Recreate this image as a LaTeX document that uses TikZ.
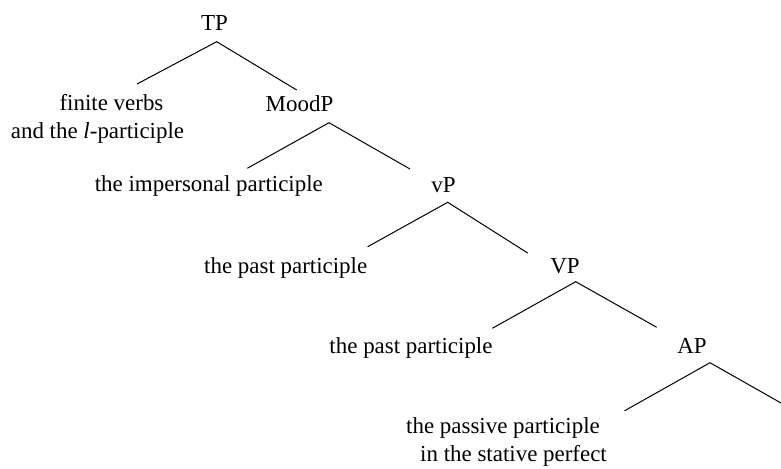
\documentclass[tikz,border=0pt]{standalone}
\usepackage{fontspec}
\setmainfont{Liberation Serif}
\begin{document}
\begin{tikzpicture}[x=0.75pt,y=-0.75pt,
  lbl/.style={anchor=base,inner sep=0pt,align=center,
    font=\fontsize{17.2pt}{20.8pt}\selectfont},
  branch/.style={line width=0.75pt,black}]
\clip (0,0) rectangle (781,468);

% category labels and leaves (two-line leaves sit on their last baseline)
\node[lbl] (TP)    at (214.5,30)  {TP};
\node[lbl] (fin)   at (97.5,138)  {\hspace*{21pt}finite verbs\\and the \textit{l}-participle};
\node[lbl] (MoodP) at (299.5,111) {MoodP};
\node[lbl] (imp)   at (208.8,191.7) {the impersonal participle};
\node[lbl] (vP)    at (443.5,192) {vP};
\node[lbl] (past1) at (285.7,273) {the past participle};
\node[lbl] (VP)    at (565,273)   {VP};
\node[lbl] (past2) at (411,353)   {the past participle};
\node[lbl] (AP)    at (692,353)   {AP};
\node[lbl] (pass)  at (503,461.7) {the passive participle\\\hspace*{15.75pt}in the stative perfect};

% fork points and branch ends
\coordinate (TP-fork)    at (216.7,41.7);
\coordinate (TP-l)       at (137,84);
\coordinate (TP-r)       at (296.7,90);
\coordinate (MoodP-fork) at (329,122.7);
\coordinate (MoodP-l)    at (247.3,168.3);
\coordinate (MoodP-r)    at (410,169);
\coordinate (vP-fork)    at (447.7,202.3);
\coordinate (vP-l)       at (367.7,246.7);
\coordinate (vP-r)       at (527.7,253);
\coordinate (VP-fork)    at (575.7,281.7);
\coordinate (VP-l)       at (492.3,328.3);
\coordinate (VP-r)       at (656.7,327.3);
\coordinate (AP-fork)    at (710,362.7);
\coordinate (AP-l)       at (624.5,410.8);
\coordinate (AP-r)       at (796,411.5);

\draw[branch] (TP-l) -- (TP-fork) -- (TP-r);
\draw[branch] (MoodP-l) -- (MoodP-fork) -- (MoodP-r);
\draw[branch] (vP-l) -- (vP-fork) -- (vP-r);
\draw[branch] (VP-l) -- (VP-fork) -- (VP-r);
\draw[branch] (AP-l) -- (AP-fork) -- (AP-r);
\end{tikzpicture}
\end{document}
